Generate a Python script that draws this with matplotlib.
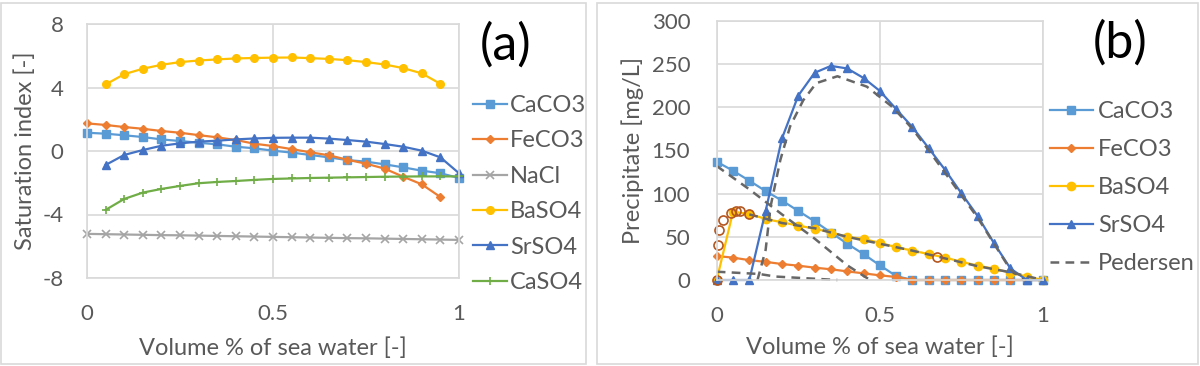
import numpy as np
import matplotlib.pyplot as plt
from matplotlib.patches import Rectangle

nan = np.nan

# volume fraction of sea water (shared x for both panels)
vol = [0, 0.05, 0.1, 0.15, 0.2, 0.25, 0.3, 0.35, 0.4, 0.45, 0.5,
       0.55, 0.6, 0.65, 0.7, 0.75, 0.8, 0.85, 0.9, 0.95, 1.0]

# (a) saturation index
si_caco3 = [1.15, 1.09, 0.99, 0.88, 0.73, 0.63, 0.52, 0.42, 0.27, 0.17, 0.02,
            -0.10, -0.25, -0.40, -0.57, -0.67, -0.84, -1.03, -1.24, -1.40, -1.70]
si_feco3 = [1.74, 1.64, 1.51, 1.40, 1.26, 1.15, 1.00, 0.86, 0.69, 0.46, 0.31,
            0.12, -0.08, -0.27, -0.55, -0.80, -1.11, -1.62, -2.10, -2.90, nan]
si_nacl = [-5.22, -5.24, -5.26, -5.28, -5.30, -5.31, -5.33, -5.35, -5.37, -5.39, -5.41,
           -5.43, -5.45, -5.47, -5.49, -5.50, -5.52, -5.54, -5.56, -5.58, -5.60]
si_baso4 = [nan, 4.19, 4.84, 5.18, 5.43, 5.60, 5.70, 5.77, 5.83, 5.86, 5.88,
            5.89, 5.85, 5.80, 5.72, 5.60, 5.45, 5.22, 4.89, 4.23, nan]
si_srso4 = [nan, -0.88, -0.25, 0.06, 0.33, 0.48, 0.59, 0.65, 0.73, 0.79, 0.83,
            0.84, 0.84, 0.78, 0.69, 0.59, 0.44, 0.27, 0.02, -0.40, -1.40]
si_caso4 = [nan, -3.71, -3.02, -2.62, -2.39, -2.20, -2.03, -1.95, -1.89, -1.82, -1.76,
            -1.73, -1.70, -1.68, -1.66, -1.64, -1.62, -1.61, -1.60, -1.60, -1.60]

# (b) precipitate [mg/L]
pr_caco3 = [137, 126.6, 115, 103, 92, 80, 68, 55, 42, 30, 17,
            4.6, 0, 0, 0, 0, 0, 0, 0, 0, 0]
pr_feco3 = [27.8, 25.9, 23, 21, 18.5, 16.6, 14.3, 12.4, 10, 7.7, 5.4,
            3.5, 0, 0, 0, 0, 0, 0, 0, 0, 0]
pr_baso4 = [0, 79, 76.5, 70.7, 66.8, 63, 59.5, 55, 50, 47.5, 43,
            38, 34, 30, 26, 21, 16.6, 13, 8.5, 4, 0]
pr_srso4 = [0, 0, 0, 80, 164, 213.6, 240, 248, 245, 234, 219,
            198, 177, 152.6, 127.5, 100.4, 74, 42.5, 13.5, 0, 0]

# Pedersen reference curves
ped_srso4_x = [0.125, 0.15, 0.165, 0.195, 0.225, 0.265, 0.305, 0.37, 0.46, 0.54,
               0.6, 0.65, 0.7, 0.75, 0.8, 0.85, 0.9, 0.94]
ped_srso4_y = [0, 35, 85, 139, 178, 208, 228, 236, 224, 200,
               175, 150, 124, 98, 72, 42, 12, 0]
ped_caco3_x = [0, 0.1, 0.2, 0.3, 0.4, 0.47]
ped_caco3_y = [132, 105, 76, 48, 17, 0]
ped_baso4_x = [0.1, 0.2, 0.3, 0.4, 0.5, 0.6, 0.7, 0.8, 0.9, 1.0]
ped_baso4_y = [76, 66, 60, 50, 42, 34, 25, 16, 9, 0]
ped_feco3_x = [0, 0.13, 0.18, 0.37]
ped_feco3_y = [9.6, 7, 4, 0]
ped_pts_x = [0, 0.003, 0.007, 0.02, 0.045, 0.06, 0.07, 0.1, 0.675]
ped_pts_y = [0, 40, 58, 70, 78, 80, 80, 77, 27]

c_blue_l = '#5B9BD5'
c_orange = '#ED7D31'
c_gray = '#A5A5A5'
c_yellow = '#FFC000'
c_blue = '#4472C4'
c_green = '#70AD47'
c_dash = '#676767'
c_text = '#595959'
c_grid = '#D9D9D9'

plt.rcParams['font.family'] = ['Lato', 'DejaVu Sans']
plt.rcParams['axes.unicode_minus'] = False

TICK = 16
LAB = 17

W, H = 1200, 366
fig = plt.figure(figsize=(12, 3.66), dpi=100)

# panel frames
for x0, x1 in [(1, 586), (597, 1198)]:
    fig.patches.append(Rectangle((x0 / W, 2 / H), (x1 - x0) / W, 361 / H,
                                 transform=fig.transFigure, fill=False,
                                 edgecolor=c_grid, lw=1.2))


def style(ax, ypad, xpad):
    for s in ax.spines.values():
        s.set_color(c_grid)
        s.set_linewidth(1.2)
    ax.grid(True, color=c_grid, lw=1.2)
    ax.set_axisbelow(True)
    ax.tick_params(length=0, colors=c_text, labelsize=TICK)
    ax.tick_params(axis='y', pad=ypad)
    ax.tick_params(axis='x', pad=xpad)
    ax.set_xlim(0, 1)
    ax.set_xticks([0, 0.5, 1])
    ax.set_xticklabels(['0', '0.5', '1'])


# ---- (a)
ax1 = fig.add_axes([87 / W, 1 - 278 / H, 372 / W, 254 / H])
style(ax1, 17, 19)
ax1.set_ylim(-8, 8)
ax1.set_yticks([-8, -4, 0, 4, 8])

kw = dict(lw=1.6, clip_on=False)
ax1.plot(vol, si_caco3, marker='s', ms=5.5, color=c_blue_l, label='CaCO3', **kw)
ax1.plot(vol, si_feco3, marker='D', ms=4, color=c_orange, label='FeCO3', **kw)
ax1.plot(vol, si_nacl, marker='x', ms=5.5, mew=1.2, color=c_gray, label='NaCl', **kw)
ax1.plot(vol, si_baso4, marker='o', ms=5.5, color=c_yellow, label='BaSO4', **kw)
ax1.plot(vol, si_srso4, marker='^', ms=5.5, color=c_blue, label='SrSO4', **kw)
ax1.plot(vol, si_caso4, marker='+', ms=6, mew=1.2, color=c_green, label='CaSO4', **kw)

ax1.set_ylabel('Saturation index [-]', color=c_text, fontsize=LAB)
ax1.yaxis.label.set_va('center')
ax1.yaxis.set_label_coords((25 - 87) / 372, 0.5)
ax1.set_xlabel('Volume % of sea water [-]', color=c_text, fontsize=LAB)
ax1.xaxis.label.set_va('center')
ax1.xaxis.set_label_coords(0.5, (278 - 348) / 254)

ax1.legend(loc='center left', bbox_to_anchor=(473 / W, 1 - 194 / H),
           bbox_transform=fig.transFigure, frameon=False, borderpad=0,
           borderaxespad=0, handlelength=1.44, handletextpad=0.13,
           labelspacing=0.61, fontsize=LAB, labelcolor=c_text)
fig.text(506 / W, 1 - 45 / H, '(a)', fontsize=36, ha='center', va='center')

# ---- (b)
ax2 = fig.add_axes([716.7 / W, 1 - 280 / H, 326.3 / W, 259 / H])
style(ax2, 19, 19)
ax2.set_ylim(0, 300)
ax2.set_yticks(range(0, 301, 50))

kw = dict(lw=1.6, clip_on=False)
ax2.plot(vol, pr_caco3, marker='s', ms=6, color=c_blue_l, label='CaCO3', **kw)
ax2.plot(vol, pr_feco3, marker='D', ms=4.5, color=c_orange, label='FeCO3', **kw)
ax2.plot(vol, pr_baso4, marker='o', ms=6, color=c_yellow, label='BaSO4', **kw)
ax2.plot(vol, pr_srso4, marker='^', ms=6, color=c_blue, label='SrSO4', **kw)

dkw = dict(color=c_dash, lw=1.8, ls=(0, (3.5, 2.5)), clip_on=False)
ax2.plot(ped_srso4_x, ped_srso4_y, label='Pedersen', **dkw)
ax2.plot(ped_caco3_x, ped_caco3_y, **dkw)
ax2.plot(ped_baso4_x, ped_baso4_y, **dkw)
ax2.plot(ped_feco3_x, ped_feco3_y, **dkw)
ax2.plot(ped_pts_x, ped_pts_y, ls='none', marker='o', ms=6.5, mfc='none',
         mec='#B4561F', mew=1.2, clip_on=False)

ax2.set_ylabel('Precipitate [mg/L]', color=c_text, fontsize=LAB)
ax2.yaxis.label.set_va('center')
ax2.yaxis.set_label_coords((633 - 716.7) / 326.3, 0.5)
ax2.set_xlabel('Volume % of sea water [-]', color=c_text, fontsize=LAB)
ax2.xaxis.label.set_va('center')
ax2.xaxis.set_label_coords(0.5, (280 - 347) / 259)

ax2.legend(loc='center left', bbox_to_anchor=(1050 / W, 1 - 187.5 / H),
           bbox_transform=fig.transFigure, frameon=False, borderpad=0,
           borderaxespad=0, handlelength=1.82, handletextpad=0.21,
           labelspacing=0.72, fontsize=LAB, labelcolor=c_text)
fig.text(1120 / W, 1 - 43 / H, '(b)', fontsize=36, ha='center', va='center')

fig.savefig('out.png', dpi=100)
